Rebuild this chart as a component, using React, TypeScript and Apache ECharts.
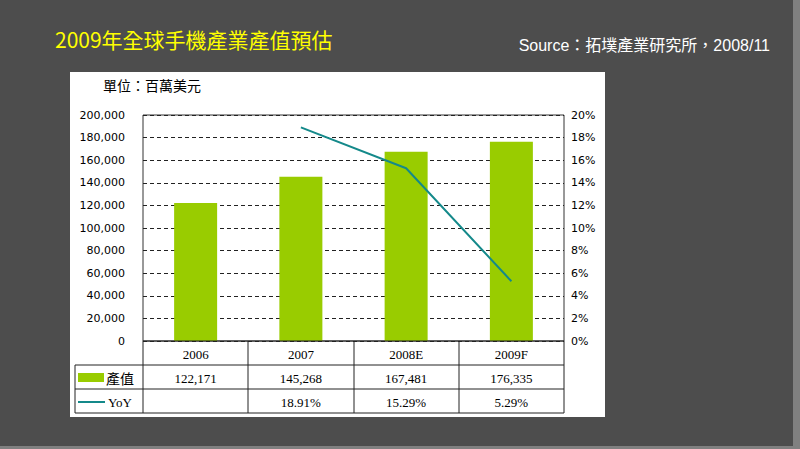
import React, { useEffect, useRef } from "react";
import * as echarts from "echarts";

const categories = ["2006", "2007", "2008E", "2009F"];
const outputValues = [122171, 145268, 167481, 176335];
const yoyValues: (number | null)[] = [null, 18.91, 15.29, 5.29];
const outputLabels = ["122,171", "145,268", "167,481", "176,335"];
const yoyLabels = ["", "18.91%", "15.29%", "5.29%"];
const titleText = "2009年全球手機產業產值預估";
const sourceText = "Source：拓墣產業研究所，2008/11";
const unitText = "單位：百萬美元";
const seriesNames = ["產值", "YoY"];

const GL = 143;
const GR = 564;
const GT = 115;
const GB = 341;
const ROW = 24;
const TL = 75;

export default function App() {
  const ref = useRef<HTMLDivElement>(null);
  useEffect(() => {
    if (!ref.current) return;
    const chart = echarts.init(ref.current, null, { renderer: "svg" });
    const colW = (GR - GL) / categories.length;
    const lineStyle = { stroke: "#222", lineWidth: 1 };
    const g: any[] = [];
    g.push({ type: "rect", z: -10, shape: { x: 793, y: 0, width: 7, height: 449 }, style: { fill: "#808080" } });
    g.push({ type: "rect", z: -10, shape: { x: 0, y: 446, width: 800, height: 3 }, style: { fill: "#808080" } });
    g.push({ type: "rect", z: -10, shape: { x: 70, y: 72, width: 535, height: 345 }, style: { fill: "#ffffff" } });
    g.push({ type: "text", x: 55, y: 39, style: { text: titleText, fill: "#ffff00", font: '21px "Noto Sans CJK TC", sans-serif', textVerticalAlign: "middle" } });
    g.push({ type: "text", x: 770, y: 45, style: { text: sourceText, fill: "#ffffff", font: '16px "Liberation Sans", "Noto Sans CJK TC", sans-serif', textAlign: "right", textVerticalAlign: "middle" } });
    g.push({ type: "text", x: 103, y: 85, style: { text: unitText, fill: "#000", font: '14px "Noto Sans CJK TC", sans-serif', textVerticalAlign: "middle" } });
    const hLines: [number, number, number][] = [
      [GL, GR, GB],
      [TL, GR, GB + ROW],
      [TL, GR, GB + 2 * ROW],
      [TL, GR, GB + 3 * ROW],
    ];
    hLines.forEach(([x1, x2, y]) => g.push({ type: "line", z: 5, shape: { x1, y1: y, x2, y2: y }, style: lineStyle }));
    g.push({ type: "line", z: 5, shape: { x1: TL, y1: GB + ROW, x2: TL, y2: GB + 3 * ROW }, style: lineStyle });
    for (let i = 0; i <= categories.length; i++) {
      const x = Math.round(GL + i * colW);
      g.push({ type: "line", z: 5, shape: { x1: x, y1: GB, x2: x, y2: GB + 3 * ROW }, style: lineStyle });
    }
    const tFont = '13px "Liberation Serif", serif';
    categories.forEach((c, i) => {
      const cx = GL + (i + 0.5) * colW;
      g.push({ type: "text", x: cx, y: GB + ROW / 2 + 1, style: { text: c, fill: "#000", font: tFont, textAlign: "center", textVerticalAlign: "middle" } });
      g.push({ type: "text", x: cx, y: GB + ROW * 1.5 + 1, style: { text: outputLabels[i], fill: "#000", font: tFont, textAlign: "center", textVerticalAlign: "middle" } });
      g.push({ type: "text", x: cx, y: GB + ROW * 2.5 + 1, style: { text: yoyLabels[i], fill: "#000", font: tFont, textAlign: "center", textVerticalAlign: "middle" } });
    });
    g.push({ type: "rect", z: 5, shape: { x: 78, y: GB + ROW * 1.5 - 4, width: 26, height: 9 }, style: { fill: "#99cc00" } });
    g.push({ type: "text", x: 106, y: GB + ROW * 1.5 + 1, style: { text: seriesNames[0], fill: "#000", font: '14px "Noto Sans CJK TC", sans-serif', textVerticalAlign: "middle" } });
    g.push({ type: "line", z: 5, shape: { x1: 78, y1: GB + ROW * 2.5 + 1, x2: 105, y2: GB + ROW * 2.5 + 1 }, style: { stroke: "#14898a", lineWidth: 2 } });
    g.push({ type: "text", x: 108, y: GB + ROW * 2.5 + 1, style: { text: seriesNames[1], fill: "#000", font: '13px "Liberation Serif", serif', textVerticalAlign: "middle" } });

    chart.setOption({
      animation: false,
      backgroundColor: "#4d4d4d",
      grid: {
        left: GL,
        right: 800 - GR,
        top: GT,
        bottom: 449 - GB,
        show: true,
        borderColor: "#333",
        borderWidth: 1,
        backgroundColor: "transparent",
      },
      xAxis: {
        type: "category",
        data: categories,
        axisLabel: { show: false },
        axisTick: { show: false },
        axisLine: { show: false },
      },
      yAxis: [
        {
          type: "value",
          min: 0,
          max: 200000,
          interval: 20000,
          axisLine: { show: false },
          axisTick: { show: false },
          axisLabel: {
            color: "#000",
            fontSize: 11,
            fontFamily: "DejaVu Sans",
            margin: 18,
            formatter: (v: number) => v.toLocaleString("en-US"),
          },
          splitLine: { show: true, lineStyle: { color: "#222", type: [4, 3], width: 1 } },
        },
        {
          type: "value",
          min: 0,
          max: 20,
          interval: 2,
          axisLine: { show: false },
          axisTick: { show: false },
          axisLabel: {
            color: "#000",
            fontSize: 11,
            fontFamily: "DejaVu Sans",
            margin: 7,
            formatter: "{value}%",
          },
          splitLine: { show: false },
        },
      ],
      series: [
        {
          name: seriesNames[0],
          type: "bar",
          data: outputValues,
          barWidth: 43,
          itemStyle: { color: "#99cc00" },
        },
        {
          name: seriesNames[1],
          type: "line",
          yAxisIndex: 1,
          data: yoyValues,
          showSymbol: false,
          symbol: "none",
          lineStyle: { color: "#14898a", width: 2 },
          itemStyle: { color: "#14898a" },
        },
      ],
      graphic: g,
    });
    return () => chart.dispose();
  }, []);
  return <div ref={ref} style={{ position: "fixed", left: 0, top: 0, width: 800, height: 449 }} />;
}
